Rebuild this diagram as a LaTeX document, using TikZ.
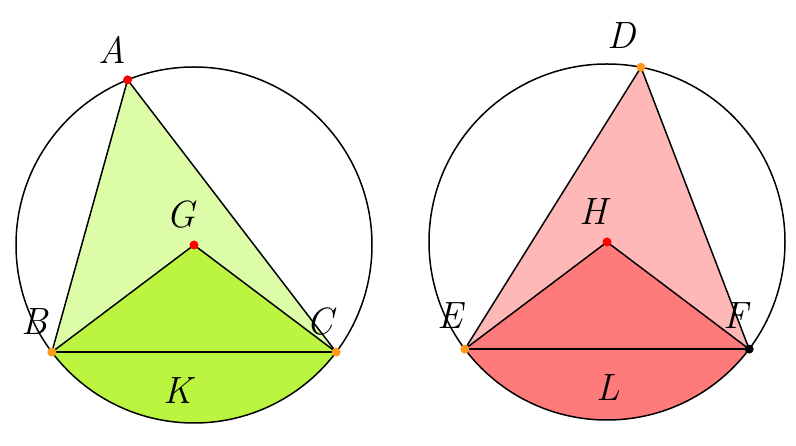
\documentclass[tikz,border=0pt]{standalone}
\usepackage{fontspec}
\usetikzlibrary{calc}
\definecolor{lgreen}{HTML}{DDFCA8}
\definecolor{bgreen}{HTML}{BBF540}
\definecolor{lpink}{HTML}{FFB8B8}
\definecolor{dpink}{HTML}{FF7A7A}
\definecolor{ptred}{HTML}{FF0000}
\definecolor{ptorange}{HTML}{FF9A1A}
\tikzset{
  edge/.style={black, line width=1.5pt},
  chord/.style={black, line width=2.3pt},
  rim/.style={black, line width=1.5pt},
  dotpt/.style={circle, inner sep=0pt, minimum size=9pt},
  lbl/.style={inner sep=0pt, font=\fontsize{38}{42}\selectfont\itshape}
}
\begin{document}
\begin{tikzpicture}[x=1pt,y=1pt]
\useasboundingbox (0,0) rectangle (796,446);
% ---------- left figure ----------
\coordinate (G) at (194,201);
\coordinate (A) at ($(G)+(111.9:178)$);
\coordinate (B) at ($(G)+(217:178)$);
\coordinate (C) at ($(G)+(323:178)$);
\fill[lgreen] (A) -- (B) -- (C) -- cycle;
\fill[bgreen] (G) -- (B) arc[start angle=217, end angle=323, radius=178pt] -- cycle;
\draw[rim] (G) circle[radius=178pt];
\draw[edge] (A) -- (B);
\draw[edge] (A) -- (C);
\draw[edge] (G) -- (B);
\draw[edge] (G) -- (C);
\draw[chord] (B) -- (C);
\node[dotpt, fill=ptred] (dA) at (A) {};
\node[dotpt, fill=ptred] (dG) at (G) {};
\node[dotpt, fill=ptorange] (dB) at (B) {};
\node[dotpt, fill=ptorange] (dC) at (C) {};
\node[lbl] (lA) at (112,396) {A};
\node[lbl] (lG) at (181,231) {G};
\node[lbl] (lB) at (35,124) {B};
\node[lbl] (lC) at (320,124) {C};
\node[lbl] (lK) at (178,55) {K};
% ---------- right figure ----------
\coordinate (H) at (607,204);
\coordinate (D) at ($(H)+(79:178)$);
\coordinate (E) at ($(H)+(217:178)$);
\coordinate (F) at ($(H)+(323:178)$);
\fill[lpink] (D) -- (E) -- (F) -- cycle;
\fill[dpink] (H) -- (E) arc[start angle=217, end angle=323, radius=178pt] -- cycle;
\draw[rim] (H) circle[radius=178pt];
\draw[edge] (D) -- (E);
\draw[edge] (D) -- (F);
\draw[edge] (H) -- (E);
\draw[edge] (H) -- (F);
\draw[chord] (E) -- (F);
\node[dotpt, fill=ptorange] (dD) at (D) {};
\node[dotpt, fill=ptred] (dH) at (H) {};
\node[dotpt, fill=ptorange] (dE) at (E) {};
\node[dotpt, fill=black] (dF) at (F) {};
\node[lbl] (lD) at (622,410) {D};
\node[lbl] (lH) at (593,234) {H};
\node[lbl] (lE) at (450,130) {E};
\node[lbl] (lF) at (736,130) {F};
\node[lbl] (lL) at (608,58) {L};
\end{tikzpicture}
\end{document}
